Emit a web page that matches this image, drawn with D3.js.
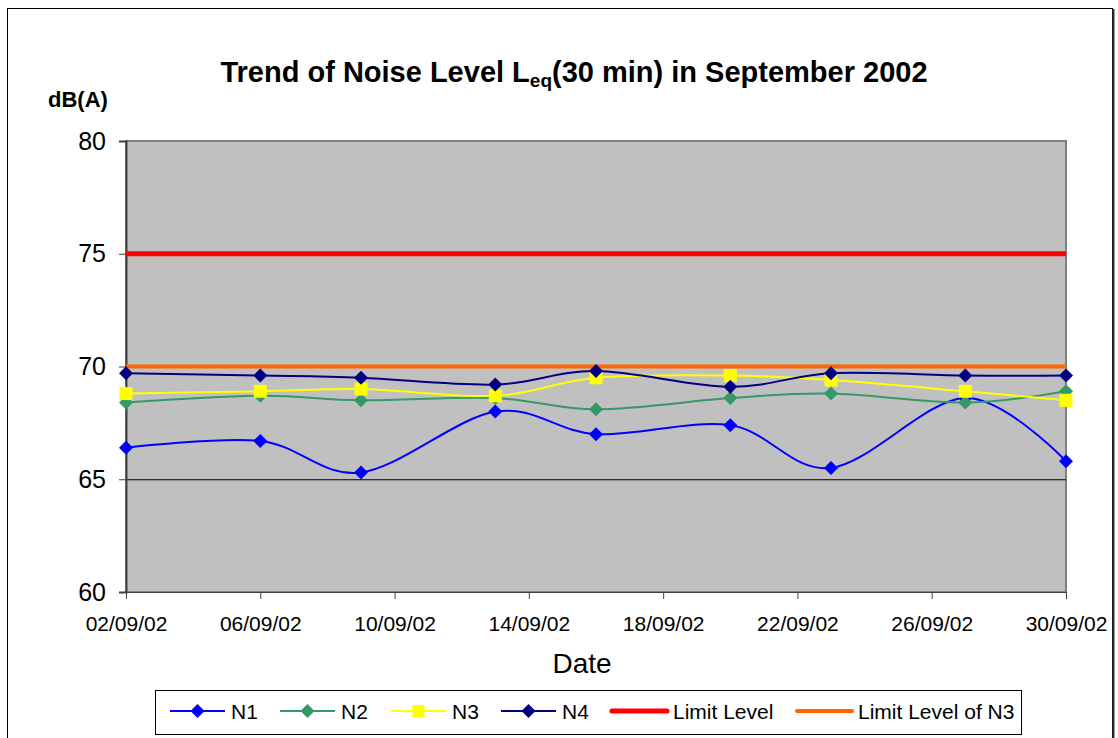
<!DOCTYPE html>
<html>
<head>
<meta charset="utf-8">
<script src="https://cdn.jsdelivr.net/npm/d3@7"></script>
<style>
  html, body { margin: 0; padding: 0; background: #fff; }
  svg { display: block; font-family: Arial, "Liberation Sans", sans-serif; }
</style>
</head>
<body>
<svg id="chart" width="1118" height="738"></svg>
<script>
// ---- data ----
const dates = ["2002-09-02","2002-09-06","2002-09-09","2002-09-13","2002-09-16","2002-09-20","2002-09-23","2002-09-27","2002-09-30"];
const n1 = [66.4, 66.7, 65.3, 68.0, 67.0, 67.4, 65.5, 68.6, 65.8];
const n2 = [68.4, 68.7, 68.5, 68.6, 68.1, 68.6, 68.8, 68.4, 68.9];
const n3 = [68.8, 68.9, 69.0, 68.7, 69.5, 69.6, 69.4, 68.9, 68.5];
const n4 = [69.7, 69.6, 69.5, 69.2, 69.8, 69.1, 69.7, 69.6, 69.6];
const limitLevel = 75;
const limitLevelN3 = 70;
const xTickLabels = ["02/09/02","06/09/02","10/09/02","14/09/02","18/09/02","22/09/02","26/09/02","30/09/02"];
const yTicks = [60, 65, 70, 75, 80];
const seriesNames = ["N1","N2","N3","N4"];
const seriesColors = ["#0000FF","#339966","#FFFF00","#000080"];
const seriesMarkers = ["diamond","diamond","square","diamond"];

// ---- layout ----
const svg = d3.select("#chart");
const L = 126, R = 1066, T = 141, B = 592;
const parse = d3.timeParse("%Y-%m-%d");
const fmtIn = d3.timeParse("%d/%m/%y");
const x = d3.scaleTime().domain([parse(dates[0]), parse(dates[dates.length-1])]).range([L, R]);
const y = d3.scaleLinear().domain([60, 80]).range([B, T]);
const FONT = "Arial, 'Liberation Sans', sans-serif";

// outer border
svg.append("rect").attr("x", 7.5).attr("y", 8.5).attr("width", 1105).attr("height", 740)
  .attr("fill", "#fff").attr("stroke", "#000").attr("stroke-width", 1);
svg.append("line").attr("x1", 1113.5).attr("x2", 1113.5).attr("y1", 9).attr("y2", 738)
  .attr("stroke", "#333").attr("stroke-width", 2);

// plot area
svg.append("rect").attr("x", L).attr("y", T).attr("width", R - L).attr("height", B - T)
  .attr("fill", "#C0C0C0").attr("stroke", "#808080").attr("stroke-width", 2);

// gridlines
svg.append("g").selectAll("line").data(yTicks.filter(v => v > 60 && v < 80)).join("line")
  .attr("x1", L).attr("x2", R).attr("y1", d => y(d) + 0.5).attr("y2", d => y(d) + 0.5)
  .attr("stroke", "#000").attr("stroke-width", 1);

// axes
const yAxis = d3.axisLeft(y).tickValues(yTicks).tickSize(7).tickPadding(13).tickFormat(d3.format("d"));
const gy = svg.append("g").attr("transform", `translate(${L},0)`).call(yAxis);
gy.select(".domain").attr("stroke", "#404040").attr("stroke-width", 2);
gy.selectAll(".tick line").attr("stroke", "#404040");
gy.selectAll("text").attr("font-size", 25).attr("fill", "#000").attr("font-family", FONT);

const xTickDates = xTickLabels.map(s => fmtIn(s));
const xAxis = d3.axisBottom(x).tickValues(xTickDates).tickSize(7).tickPadding(17).tickFormat((d, i) => xTickLabels[i]);
const gx = svg.append("g").attr("transform", `translate(0,${B})`).call(xAxis);
gx.select(".domain").attr("stroke", "#404040").attr("stroke-width", 1);
gx.selectAll(".tick line").attr("stroke", "#404040");
gx.selectAll("text").attr("font-size", 21).attr("fill", "#000").attr("font-family", FONT);

// limit lines
svg.append("line").attr("x1", L).attr("x2", R).attr("y1", y(limitLevel)).attr("y2", y(limitLevel))
  .attr("stroke", "#FF0000").attr("stroke-width", 5);
svg.append("line").attr("x1", L).attr("x2", R).attr("y1", y(limitLevelN3)).attr("y2", y(limitLevelN3))
  .attr("stroke", "#FF6600").attr("stroke-width", 4);

// series
const allSeries = [n1, n2, n3, n4];
const line = d3.line().x((d, i) => x(parse(dates[i]))).y(d => y(d)).curve(d3.curveCatmullRom.alpha(0));
allSeries.forEach((s, k) => {
  svg.append("path").datum(s).attr("d", line).attr("fill", "none")
    .attr("stroke", seriesColors[k]).attr("stroke-width", 2);
});
function marker(g, type, color, cx, cy, big) {
  if (type === "square") {
    const s = big ? 13 : 12;
    g.append("rect").attr("x", cx - s/2).attr("y", cy - s/2).attr("width", s).attr("height", s).attr("fill", color);
  } else {
    const h = 7;
    g.append("path").attr("d", `M${cx},${cy-h}L${cx+h},${cy}L${cx},${cy+h}L${cx-h},${cy}Z`).attr("fill", color);
  }
}
allSeries.forEach((s, k) => {
  const g = svg.append("g");
  s.forEach((v, i) => marker(g, seriesMarkers[k], seriesColors[k], x(parse(dates[i])), y(v), true));
});

// titles
const title = svg.append("text").attr("x", 574).attr("y", 82).attr("text-anchor", "middle")
  .attr("font-size", 29).attr("font-weight", "bold");
title.append("tspan").text("Trend of Noise Level L");
title.append("tspan").attr("font-size", 19).attr("dy", 5).text("eq");
title.append("tspan").attr("dy", -5).text("(30 min) in September 2002");

svg.append("text").attr("x", 48).attr("y", 107).attr("font-size", 22).attr("font-weight", "bold").text("dB(A)");
svg.append("text").attr("x", 582).attr("y", 673).attr("text-anchor", "middle").attr("font-size", 28).text("Date");

// legend
const lg = svg.append("g");
lg.append("rect").attr("x", 155.5).attr("y", 690.5).attr("width", 866).attr("height", 44)
  .attr("fill", "#fff").attr("stroke", "#000").attr("stroke-width", 1);
const legendItems = [
  {name: "N1", color: seriesColors[0], marker: "diamond", w: 2, x: 170},
  {name: "N2", color: seriesColors[1], marker: "diamond", w: 2, x: 280},
  {name: "N3", color: seriesColors[2], marker: "square", w: 2, x: 391},
  {name: "N4", color: seriesColors[3], marker: "diamond", w: 2, x: 501},
  {name: "Limit Level", color: "#FF0000", marker: null, w: 5, x: 612},
  {name: "Limit Level of N3", color: "#FF6600", marker: null, w: 4, x: 797}
];
const ly = 711;
legendItems.forEach(it => {
  lg.append("line").attr("x1", it.x).attr("x2", it.x + 55).attr("y1", ly).attr("y2", ly)
    .attr("stroke", it.color).attr("stroke-width", it.w).attr("stroke-linecap", it.marker ? "butt" : "round");
  if (it.marker) marker(lg, it.marker, it.color, it.x + 27.5, ly, false);
  lg.append("text").attr("x", it.x + 61).attr("y", ly + 8).attr("font-size", 21).text(it.name);
});
</script>
</body>
</html>
